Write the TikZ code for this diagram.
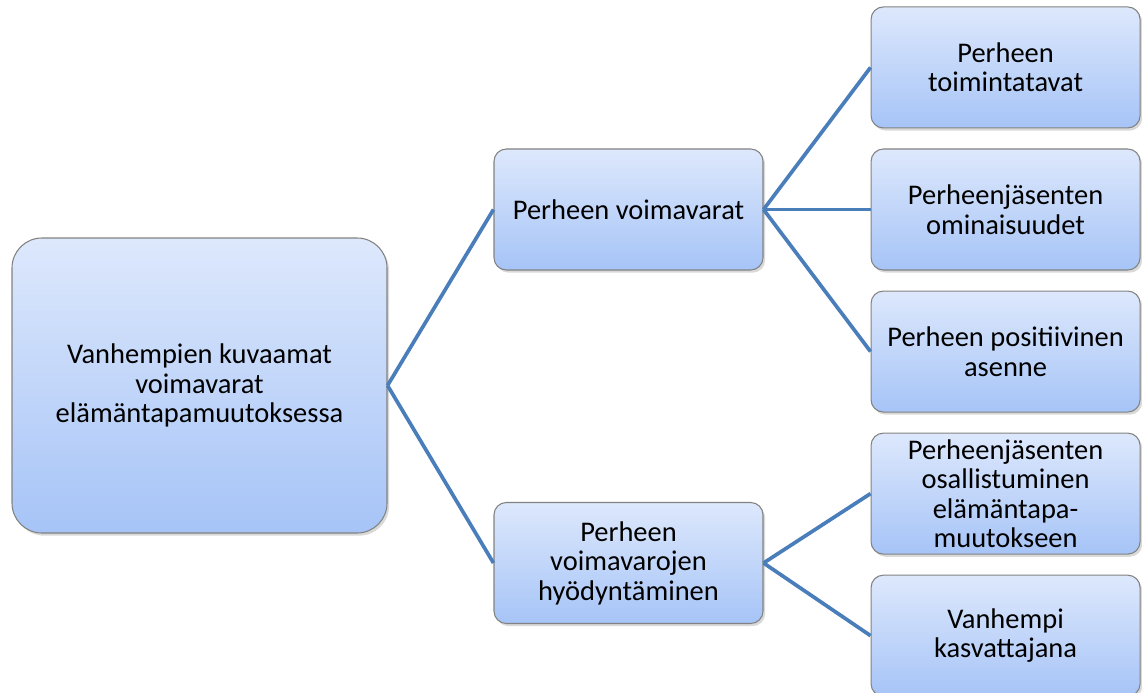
\documentclass[tikz,border=0pt]{standalone}
\usepackage{fontspec}
\setmainfont{Carlito}
\usepackage{tikz}
\usetikzlibrary{positioning, shadows}
\definecolor{boxtop}{RGB}{221,232,252}
\definecolor{boxbottom}{RGB}{166,196,247}
\definecolor{boxline}{RGB}{130,130,130}
\definecolor{linkblue}{RGB}{74,126,187}
\tikzset{
  box/.style={draw=boxline, line width=0.6pt, rounded corners=7pt, align=center,
    top color=boxtop, bottom color=boxbottom, inner sep=1pt,
    minimum width=5.38cm, minimum height=2.42cm,
    font=\fontsize{16.2}{16.8}\selectfont,
    drop shadow={shadow xshift=1.2pt, shadow yshift=-1.5pt, opacity=0.3}},
  rootbox/.style={box, rounded corners=17pt, minimum width=7.5cm, minimum height=5.9cm},
  link/.style={draw=linkblue, line width=2.1pt}
}
\begin{document}
\begin{tikzpicture}
  \useasboundingbox (0,0) rectangle (22.84,-13.86);

  % === Root ===
  \node[rootbox] (root) at (3.99,-7.71) {Vanhempien kuvaamat\\voimavarat\\elämäntapamuutoksessa};

  % === Middle level ===
  \node[box] (voima) at (12.57,-4.19) {Perheen voimavarat};
  \node[box] (hyoty) at (12.57,-11.26) {Perheen\\voimavarojen\\hyödyntäminen};

  % === Right column ===
  \node[box, right=2.14cm of voima] (jasen) {Perheenjäsenten\\ominaisuudet};
  \node[box, above=0.4cm of jasen] (toimi) {Perheen\\toimintatavat};
  \node[box, below=0.4cm of jasen] (asenne) {Perheen positiivinen\\asenne};
  \node[box, below=0.4cm of asenne] (osall) {Perheenjäsenten\\osallistuminen\\elämäntapa-\\muutokseen};
  \node[box, below=0.4cm of osall] (kasvat) {Vanhempi\\kasvattajana};

  \draw[link] (root.east) -- (voima.west);
  \draw[link] (root.east) -- (hyoty.west);
  \draw[link] (voima.east) -- (toimi.west);
  \draw[link] (voima.east) -- (jasen.west);
  \draw[link] (voima.east) -- (asenne.west);
  \draw[link] (hyoty.east) -- (osall.west);
  \draw[link] (hyoty.east) -- (kasvat.west);
\end{tikzpicture}
\end{document}
